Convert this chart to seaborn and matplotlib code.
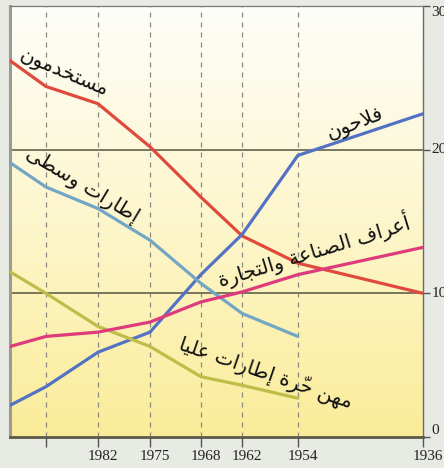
import numpy as np
import pandas as pd
import matplotlib
matplotlib.use("Agg")
import matplotlib.pyplot as plt
import matplotlib.transforms as mtrans
import seaborn as sns

# ---------------- data ----------------
years = [1999, 1990, 1982, 1975, 1968, 1962, 1954, 1936]
tick_years = [1990, 1982, 1975, 1968, 1962, 1954, 1936]
tick_labels = ["", "1982", "1975", "1968", "1962", "1954", "1936"]
# relative position (from the left edge) of each census year on the time axis
axis_years = [1999, 1990, 1982, 1975, 1968, 1962, 1954, 1936]
axis_frac = [0.0, 0.087, 0.213, 0.339, 0.462, 0.562, 0.697, 1.0]

employes = [26.2, 24.4, 23.2, 20.2, 16.7, 14.0, 12.1, 10.0]
agriculteurs = [2.2, 3.5, 5.9, 7.3, 11.3, 14.1, 19.6, 22.5]
cadres_moyens = [19.1, 17.4, 15.9, 13.7, 10.7, 8.6, 7.0, None]
cadres_sup = [11.5, 10.0, 7.7, 6.3, 4.2, 3.6, 2.7, None]
artisans = [6.3, 7.0, 7.3, 8.0, 9.4, 10.1, 11.3, 13.2]

names = ["مستخدمون", "فلاحون", "إطارات وسطى", "مهن حرّة إطارات عليا",
         "أعراف الصناعة والتجارة"]
series = [employes, agriculteurs, cadres_moyens, cadres_sup, artisans]
colors = ["#e04a3c", "#5472c4", "#72a6c4", "#bfbd4a", "#dd3b7c"]

y_ticks = [0, 10, 20, 30]

# ---------------- minimal Arabic shaping ----------------
_forms = {
    'ا': (0xFE8D, 0xFE8E, None, None), 'أ': (0xFE83, 0xFE84, None, None),
    'إ': (0xFE87, 0xFE88, None, None), 'ة': (0xFE93, 0xFE94, None, None),
    'ت': (0xFE95, 0xFE96, 0xFE97, 0xFE98), 'ج': (0xFE9D, 0xFE9E, 0xFE9F, 0xFEA0),
    'ح': (0xFEA1, 0xFEA2, 0xFEA3, 0xFEA4), 'خ': (0xFEA5, 0xFEA6, 0xFEA7, 0xFEA8),
    'د': (0xFEA9, 0xFEAA, None, None), 'ر': (0xFEAD, 0xFEAE, None, None),
    'س': (0xFEB1, 0xFEB2, 0xFEB3, 0xFEB4), 'ص': (0xFEB9, 0xFEBA, 0xFEBB, 0xFEBC),
    'ط': (0xFEC1, 0xFEC2, 0xFEC3, 0xFEC4), 'ع': (0xFEC9, 0xFECA, 0xFECB, 0xFECC),
    'ف': (0xFED1, 0xFED2, 0xFED3, 0xFED4), 'ل': (0xFEDD, 0xFEDE, 0xFEDF, 0xFEE0),
    'م': (0xFEE1, 0xFEE2, 0xFEE3, 0xFEE4), 'ن': (0xFEE5, 0xFEE6, 0xFEE7, 0xFEE8),
    'ه': (0xFEE9, 0xFEEA, 0xFEEB, 0xFEEC), 'و': (0xFEED, 0xFEEE, None, None),
    'ى': (0xFEEF, 0xFEF0, 0xFEF3, 0xFEF4), 'ي': (0xFEF1, 0xFEF2, 0xFEF3, 0xFEF4),
}
_lamalef = {'ا': (0xFEFB, 0xFEFC), 'أ': (0xFEF7, 0xFEF8), 'إ': (0xFEF9, 0xFEFA)}
_marks = {'\u0651'}


def shape(text):
    clusters = []
    i = 0
    while i < len(text):
        ch = text[i]
        if ch == 'ل' and i + 1 < len(text) and text[i + 1] in _lamalef:
            clusters.append(['LA' + text[i + 1], ''])
            i += 2
            continue
        if ch in _marks and clusters:
            clusters[-1][1] += ch
        else:
            clusters.append([ch, ''])
        i += 1

    def dual(c):
        return c in _forms and _forms[c][2] is not None

    def joins(c):
        return c in _forms or c.startswith('LA')

    out = []
    for k, (c, m) in enumerate(clusters):
        prev = clusters[k - 1][0] if k > 0 else None
        nxt = clusters[k + 1][0] if k + 1 < len(clusters) else None
        jp = prev is not None and dual(prev) and joins(c)
        jn = nxt is not None and joins(nxt) and dual(c)
        if c.startswith('LA'):
            iso, fin = _lamalef[c[2]]
            g = chr(fin if jp else iso)
        elif c in _forms:
            iso, fin, ini, med = _forms[c]
            if jp and jn:
                g = chr(med)
            elif jp:
                g = chr(fin)
            elif jn:
                g = chr(ini)
            else:
                g = chr(iso)
        else:
            g = c
        out.append(g + m)
    return ''.join(out[::-1])


# ---------------- figure ----------------
sns.set_theme(style="white")
plt.rcParams['font.family'] = ['DejaVu Sans']

W, H = 444, 468
fig = plt.figure(figsize=(W / 100, H / 100), dpi=100)
fig.patch.set_facecolor("#e7ebe3")
ax = fig.add_axes([10 / W, 1 - 437 / H, 413 / W, 431 / H])

# monotonic increasing scale (year -> scaled), axis then inverted by xlim
_yr_asc = np.array(axis_years[::-1], float)
_fr_asc = 1.0 - np.array(axis_frac[::-1], float)
fwd = lambda x: np.interp(np.asarray(x, float), _yr_asc, _fr_asc)
inv = lambda f: np.interp(np.asarray(f, float), _fr_asc, _yr_asc)
ax.set_xscale('function', functions=(fwd, inv))

# gradient background (white top -> yellow bottom)
grad = np.linspace(0, 1, 256)[:, None]
top = np.array([0.995, 0.995, 0.98])
mid = np.array([0.992, 0.965, 0.80])
bot = np.array([0.985, 0.925, 0.60])
g3 = grad[..., None]
rgb = np.where(g3 < 0.5, top + (mid - top) * (g3 / 0.5),
               mid + (bot - mid) * ((g3 - 0.5) / 0.5))
rgb = np.repeat(rgb, 2, axis=1)
ax.imshow(rgb, extent=[0, 1, 0, 1], origin='upper', transform=ax.transAxes,
          aspect='auto', zorder=0, interpolation='bilinear')

# grid lines
for ty in tick_years[:-1]:
    ax.axvline(ty, color="#8a8a80", lw=0.9, ls=(0, (4, 4)), zorder=1)
for gy in [10, 20]:
    ax.axhline(gy, color="#6d6d55", lw=1.3, zorder=1)

# lines
rows = []
for nm, vals in zip(names, series):
    for yr, v in zip(years, vals):
        if v is not None:
            rows.append({"year": yr, "value": v, "group": nm})
df = pd.DataFrame(rows)
sns.lineplot(data=df, x="year", y="value", hue="group", hue_order=names,
             palette=colors, linewidth=2.3, legend=False, ax=ax, zorder=3,
             sort=False)

# labels along lines
label_specs = [
    (names[0], 64, 73, -23),
    (names[1], 355, 123, 21),
    (names[2], 82, 185, -31),
    (names[3], 266, 373, -19),
    (names[4], 314, 250, 17),
]
for txt, px, py, rot in label_specs:
    fig.text(px / W, 1 - py / H, shape(txt), fontsize=14.5, rotation=rot,
             rotation_mode='anchor', ha='center', va='center', color="#111111",
             family=['DejaVu Sans'], zorder=5)

# axes styling
ax.set_xlabel("")
ax.set_ylabel("")
for s in ["left", "bottom", "top", "right"]:
    ax.spines[s].set_visible(True)
ax.spines["left"].set_color("#9a9c94")
ax.spines["left"].set_linewidth(2.2)
ax.spines["top"].set_color("#7a7a7a")
ax.spines["top"].set_linewidth(0.9)
ax.spines["right"].set_color("#6b6b6b")
ax.spines["right"].set_linewidth(1.0)
ax.spines["bottom"].set_color("#5a5a4a")
ax.spines["bottom"].set_linewidth(2.0)

ax.set_xticks(tick_years)
ax.set_xticklabels(tick_labels, family=['Liberation Serif'], fontsize=11,
                   color="#222222")
ax.xaxis.set_minor_locator(matplotlib.ticker.FixedLocator([]))
ax.tick_params(axis='x', direction='out', length=7, width=1.0, color="#555555",
               bottom=True, pad=2)
shift = mtrans.ScaledTranslation(5 / 100, 0, fig.dpi_scale_trans)
for lab in ax.get_xticklabels():
    lab.set_transform(lab.get_transform() + shift)

ax.yaxis.tick_right()
ax.set_yticks(y_ticks)
ax.set_yticklabels([str(v) for v in y_ticks], family=['Liberation Serif'],
                   fontsize=11, color="#222222")
ax.tick_params(axis='y', direction='out', length=5, width=1.0, color="#555555",
               right=True, left=False, pad=1)
ylabs = ax.get_yticklabels()
for v, lab in zip(y_ticks, ylabs):
    lab.set_verticalalignment('bottom' if v == 0 else 'center')
ylabs[-1].set_transform(ylabs[-1].get_transform() +
                        mtrans.ScaledTranslation(0, -6 / 100, fig.dpi_scale_trans))

ax.set_xlim(1999, 1936)
ax.set_ylim(0, 30)

fig.savefig("out.png", dpi=100, facecolor=fig.get_facecolor())
